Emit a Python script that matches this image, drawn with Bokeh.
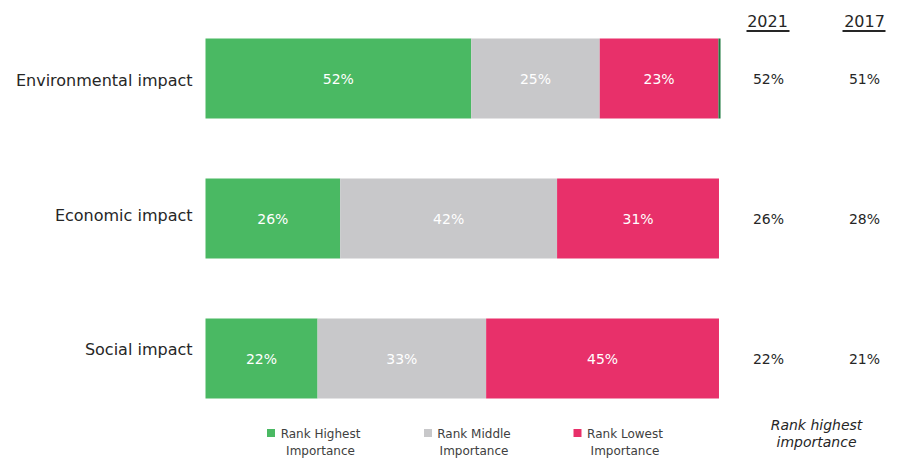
import numpy as np
from bokeh.plotting import figure
from bokeh.models import Range1d
from bokeh.embed import file_html
from bokeh.resources import INLINE
from bokeh.core.properties import value

# ---------------- data ----------------
categories = ["Environmental impact", "Economic impact", "Social impact"]
rank_highest = [51.7, 26.2, 21.8]
rank_middle = [25.0, 42.2, 32.8]
rank_lowest = [23.1, 31.5, 45.3]
unranked = [0.4, 0.0, 0.0]
labels_highest = ["52%", "26%", "22%"]
labels_middle = ["25%", "42%", "33%"]
labels_lowest = ["23%", "31%", "45%"]
years = ["2021", "2017"]
highest_2021 = ["52%", "26%", "22%"]
highest_2017 = ["51%", "28%", "21%"]
legend_line1 = ["Rank Highest", "Rank Middle", "Rank Lowest"]
legend_line2 = ["Importance", "Importance", "Importance"]
side_note = ["Rank highest", "importance"]

# ---------------- style ----------------
colors = ["#4AB963", "#C8C8CA", "#E8306A"]
sliver_color = "#1E7B3F"
FONT = "DejaVu Sans"
W, H = 897, 459
LEFT = 205
PX_PER_PCT = 5.14
ROW_PX = 140
FIRST_ROW_PX = 78
cat_label_px = [80, 215, 349]


def xd(px):
    return (px - LEFT) / PX_PER_PCT


n = len(categories)
y_end = (n - 1) + FIRST_ROW_PX / ROW_PX


def yd(py):
    return y_end - py / ROW_PX


ys = [n - 1 - i for i in range(n)]

p = figure(width=W, height=H, output_backend="svg", toolbar_location=None,
           x_range=Range1d(xd(0), xd(W)), y_range=Range1d(yd(H), y_end),
           min_border_left=0, min_border_right=0, min_border_top=0,
           min_border_bottom=0)
p.xaxis.visible = False
p.yaxis.visible = False
p.xgrid.visible = False
p.ygrid.visible = False
p.outline_line_color = None
p.background_fill_color = "white"
p.border_fill_color = "white"

# category labels
p.text(x=[xd(192)] * n, y=[yd(v) for v in cat_label_px], text=categories,
       text_align="right", text_baseline="middle", text_color="#262626",
       text_font=value(FONT), text_font_size="16px")

# bars
series = [rank_highest, rank_middle, rank_lowest, unranked]
series_colors = colors + [sliver_color]
left = np.zeros(n)
centers = []
bar_h = 80 / ROW_PX
for vals, col in zip(series, series_colors):
    vals = np.array(vals, dtype=float)
    right = left + vals
    p.hbar(y=ys, left=left, right=right, height=bar_h, fill_color=col,
           line_color=None)
    centers.append((left + right) / 2)
    left = right

for c, labs in zip(centers[:3], [labels_highest, labels_middle, labels_lowest]):
    p.text(x=c, y=ys, text=labs, text_align="center", text_baseline="middle",
           text_color="white", text_font=value(FONT), text_font_size="14px")

# right-hand columns
col_px = [768, 864]
for cx, vals in zip(col_px, [highest_2021, highest_2017]):
    p.text(x=[xd(cx)] * n, y=ys, text=vals, text_align="center",
           text_baseline="middle", text_color="#262626",
           text_font=value(FONT), text_font_size="14px")

# headers with underline
p.text(x=[xd(767), xd(864)], y=[yd(20)] * 2, text=years, text_align="center",
       text_baseline="middle", text_color="#262626", text_font=value(FONT),
       text_font_size="16px")
p.segment(x0=[xd(746), xd(842)], x1=[xd(789), xd(885)], y0=[yd(30.5)] * 2,
          y1=[yd(30.5)] * 2, line_color="#262626", line_width=2)

# side note
p.text(x=[xd(816)] * 2, y=[yd(424), yd(441)], text=side_note,
       text_align="center", text_baseline="middle", text_color="#262626",
       text_font=value(FONT), text_font_style="italic", text_font_size="14px")

# legend
sq_px = [270.5, 427.5, 577]
txt_px = [320, 473.5, 624.5]
p.scatter(x=[xd(v) for v in sq_px], y=[yd(432.5)] * 3, marker="square",
          size=8, fill_color=colors, line_color=None)
p.text(x=[xd(v) for v in txt_px], y=[yd(433.5)] * 3, text=legend_line1,
       text_align="center", text_baseline="middle", text_color="#404040",
       text_font=value(FONT), text_font_size="12px")
p.text(x=[xd(v) for v in txt_px], y=[yd(450)] * 3, text=legend_line2,
       text_align="center", text_baseline="middle", text_color="#404040",
       text_font=value(FONT), text_font_size="12px")

open("out.html", "w").write(file_html(p, INLINE))
